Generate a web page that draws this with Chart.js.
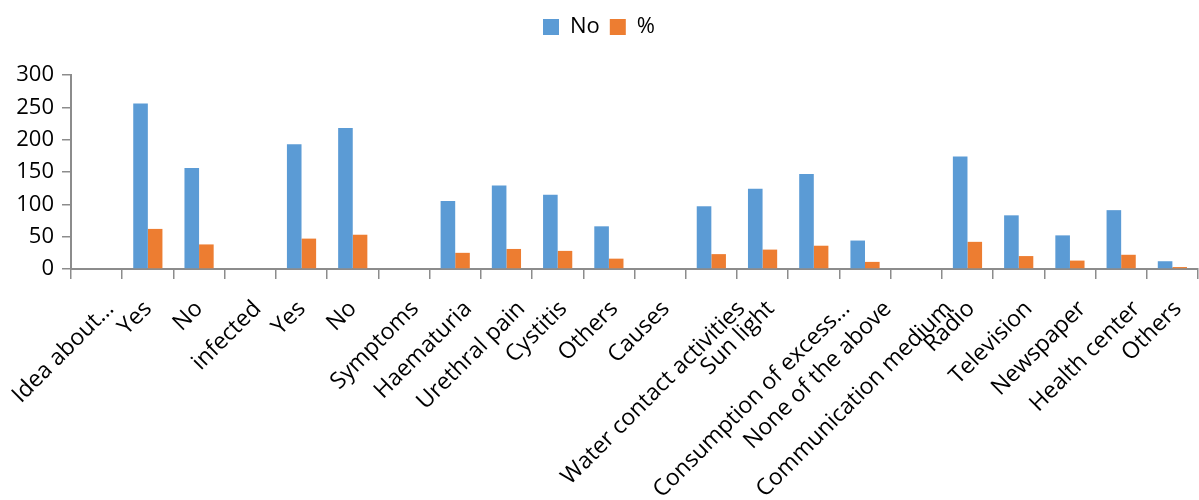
<!DOCTYPE html>
<html>
<head>
<meta charset="utf-8">
<style>
  html, body { margin: 0; padding: 0; background: #ffffff; }
  #wrap { width: 1199px; height: 500px; position: relative; }
</style>
<script src="https://cdn.jsdelivr.net/npm/chart.js@4.4.1/dist/chart.umd.min.js"></script>
</head>
<body>
<div id="wrap"><canvas id="chart"></canvas></div>
<script>
// Survey items (section headers have no values)
const categories = [
  "Idea about…", "Yes", "No", "infected", "Yes", "No", "Symptoms",
  "Haematuria", "Urethral pain", "Cystitis", "Others", "Causes",
  "Water contact activities", "Sun light", "Consumption of excess…",
  "None of the above", "Communication medium", "Radio", "Television",
  "Newspaper", "Health center", "Others"
];

// Number of respondents
const countValues = [
  null, 256, 156, null, 193, 218, null,
  105, 129, 115, 66, null,
  97, 124, 147, 44, null,
  174, 83, 52, 91, 12
];

// Share of respondents (%)
const percentValues = [
  null, 62, 38, null, 47, 53, null,
  25, 31, 28, 16, null,
  23, 30, 36, 11, null,
  42, 20, 13, 22, 3
];

const yTicks = [0, 50, 100, 150, 200, 250, 300];

const FONT = "'Open Sans', 'DejaVu Sans', sans-serif";
const AXIS = "#8c8c8c";
const X_FONT_SIZE = 23;

// Extra gap between the legend and the plot
const legendGap = {
  id: "legendGap",
  beforeInit(chart) {
    const lg = chart.legend;
    if (!lg) return;
    const fit = lg.fit;
    lg.fit = function () { fit.call(this); this.height += 27; };
  }
};

// Category labels, slanted 45°, hung from each category position on the x scale
const slantedLabels = {
  id: "slantedLabels",
  afterDraw(chart) {
    const s = chart.scales.x;
    const ctx = chart.ctx;
    ctx.save();
    ctx.font = X_FONT_SIZE + "px " + FONT;
    ctx.fillStyle = "#000000";
    ctx.textAlign = "right";
    ctx.textBaseline = "top";
    categories.forEach((lab, i) => {
      const w = ctx.measureText(lab).width;
      const x = s.getPixelForTick(i) - 8 + Math.max(0, 0.14 * w - 5);
      const y = s.top + 28;
      ctx.save();
      ctx.translate(x, y);
      ctx.rotate(-Math.PI / 4);
      ctx.fillText(lab, 0, 0);
      ctx.restore();
    });
    ctx.restore();
  }
};

new Chart(document.getElementById("chart"), {
  type: "bar",
  data: {
    labels: categories,
    datasets: [
      { label: "No", data: countValues, backgroundColor: "#5b9bd5",
        barPercentage: 1.0, categoryPercentage: 0.57 },
      { label: "%", data: percentValues, backgroundColor: "#ed7d31",
        barPercentage: 1.0, categoryPercentage: 0.57 }
    ]
  },
  plugins: [legendGap, slantedLabels],
  options: {
    responsive: true,
    maintainAspectRatio: false,
    animation: false,
    layout: { padding: { top: 6, right: 1, bottom: 0, left: 0 } },
    plugins: {
      legend: {
        position: "top",
        labels: {
          boxWidth: 16, boxHeight: 16, padding: 10,
          color: "#000000",
          font: { family: FONT, size: 22 }
        }
      },
      tooltip: { enabled: false }
    },
    scales: {
      x: {
        afterFit: (s) => { s.height = 231; },
        grid: { display: true, drawOnChartArea: false, drawTicks: true,
                tickLength: 10, color: AXIS, lineWidth: 1.5 },
        border: { display: true, color: AXIS, width: 2 },
        ticks: { display: false, autoSkip: false }
      },
      y: {
        min: 0, max: 300,
        afterFit: (s) => { s.width = 71; },
        afterBuildTicks: (s) => { s.ticks = yTicks.map(v => ({ value: v })); },
        grid: { display: true, drawOnChartArea: false, drawTicks: true,
                tickLength: 9, color: AXIS, lineWidth: 1.5 },
        border: { display: true, color: AXIS, width: 2 },
        ticks: { padding: 8, color: "#000000", font: { family: FONT, size: 22 } }
      }
    }
  }
});
</script>
</body>
</html>
